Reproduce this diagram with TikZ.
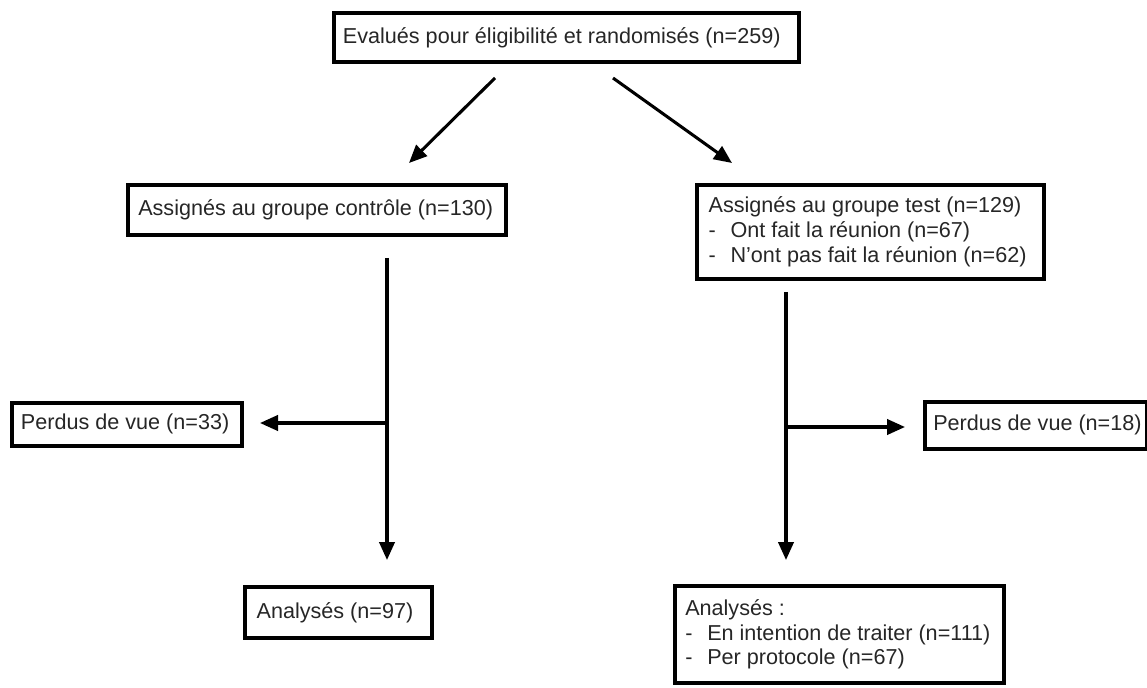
\documentclass[tikz,border=0pt]{standalone}
\usepackage{fontspec}
\setmainfont{Liberation Sans}
\usetikzlibrary{arrows.meta}
\tikzset{
  box/.style={draw=black, line width=2.8pt, anchor=north west, inner sep=0pt},
  txt/.style={anchor=west, inner sep=0pt, font=\fontsize{16.2}{18.5}\selectfont, align=left, text=black!85},
  conn/.style={line width=2.3pt, -{Triangle[length=13.5pt,width=11.5pt]}}
}
\newcommand{\itm}{\hbox to 16.5pt{-\hss}}
\begin{document}
\begin{tikzpicture}[x=0.75pt,y=-0.75pt]
\useasboundingbox (0,0) rectangle (1147,688);
% boxes
\node[box, minimum width=348.75pt, minimum height=36.75pt] (top) at (332,11) {};
\node[txt] (topt) at ([xshift=8pt]top.west) {Evalués pour éligibilité et randomisés (n=259)};
\node[box, minimum width=283.5pt, minimum height=37.5pt] (ctrl) at (126,183) {};
\node[txt] (ctrlt) at ([xshift=9pt]ctrl.west) {Assignés au groupe contrôle (n=130)};
\node[box, minimum width=260.25pt, minimum height=70.5pt] (test) at (695,183) {};
\node[txt] (testt) at ([xshift=10pt]test.west) {Assignés au groupe test (n=129)\\\itm Ont fait la réunion (n=67)\\\itm N’ont pas fait la réunion (n=62)};
\node[box, minimum width=172.5pt, minimum height=32.25pt] (p33) at (10,401) {};
\node[txt] (p33t) at ([xshift=8pt]p33.west) {Perdus de vue (n=33)};
\node[box, minimum width=166.5pt, minimum height=35.25pt] (p18) at (923,400) {};
\node[txt] (p18t) at ([xshift=7.5pt]p18.west) {Perdus de vue (n=18)};
\node[box, minimum width=140.25pt, minimum height=38.25pt] (a97) at (243,585) {};
\node[txt] (a97t) at ([xshift=10pt]a97.west) {Analysés (n=97)};
\node[box, minimum width=246.75pt, minimum height=72.75pt] (aR) at (673,584) {};
\node[txt] (aRt) at ([xshift=9pt]aR.west) {Analysés :\\\itm En intention de traiter (n=111)\\\itm Per protocole (n=67)};
% connector end points
\coordinate (d1s) at (495,78);
\coordinate (d1e) at (409,163);
\coordinate (d2s) at (613,78);
\coordinate (d2e) at (732,163);
\coordinate (v1s) at (387,258);
\coordinate (v1e) at (387,560);
\coordinate (b1s) at (387,423);
\coordinate (b1e) at (260,423);
\coordinate (v2s) at (786,292);
\coordinate (v2e) at (786,560);
\coordinate (b2s) at (786,427);
\coordinate (b2e) at (905,427);
% connectors
\draw[conn] (d1s) -- (d1e);
\draw[conn] (d2s) -- (d2e);
\draw[conn] (v1s) -- (v1e);
\draw[conn] (b1s) -- (b1e);
\draw[conn] (v2s) -- (v2e);
\draw[conn] (b2s) -- (b2e);
\end{tikzpicture}
\end{document}
